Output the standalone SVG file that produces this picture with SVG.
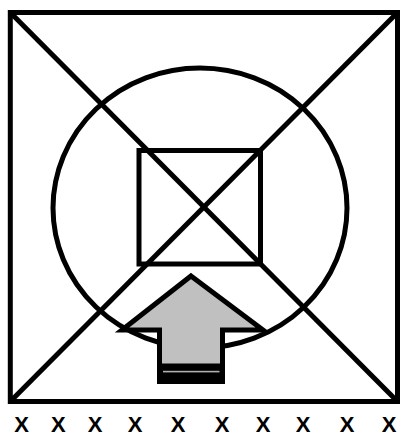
<svg xmlns="http://www.w3.org/2000/svg" width="403" height="435" viewBox="0 0 403 435">
<style>
.ln{fill:none;stroke:#000;stroke-width:5}
.lbl{font-family:"Liberation Sans",Arial,sans-serif;font-weight:bold;font-size:22px;fill:#000;text-anchor:middle}
</style>
<rect width="403" height="435" fill="#fff"/>
<g id="outer">
<rect class="ln" x="10.3" y="12.5" width="387.2" height="389"/>
</g>
<g id="connectors">
<line class="ln" x1="10.3" y1="12.5" x2="397.5" y2="401.5"/>
<line class="ln" x1="397.5" y1="12.5" x2="10.3" y2="401.5"/>
</g>
<g id="ellipse">
<ellipse class="ln" cx="200" cy="208" rx="147" ry="140"/>
</g>
<g id="inner">
<rect class="ln" x="139" y="150.5" width="121.5" height="113.5"/>
</g>
<g id="arrow">
<polygon points="191,276 263,330 222.5,330 222.5,366 159.5,366 159.5,330 122,330" fill="#c0c0c0" stroke="#000" stroke-width="5" stroke-linejoin="miter"/>
<rect x="157" y="366" width="68" height="18" fill="#000"/>
<rect x="163" y="370.8" width="56.5" height="1.6" fill="#b0b0b0"/>
</g>
<g id="labels">
<text class="lbl" x="21.5" y="431.5">X</text>
<text class="lbl" x="58.3" y="431.5">X</text>
<text class="lbl" x="95" y="431.5">X</text>
<text class="lbl" x="135" y="431.5">X</text>
<text class="lbl" x="178" y="431.5">X</text>
<text class="lbl" x="222" y="431.5">X</text>
<text class="lbl" x="263" y="431.5">X</text>
<text class="lbl" x="303" y="431.5">X</text>
<text class="lbl" x="347" y="431.5">X</text>
<text class="lbl" x="389" y="431.5">X</text>
</g>
</svg>
